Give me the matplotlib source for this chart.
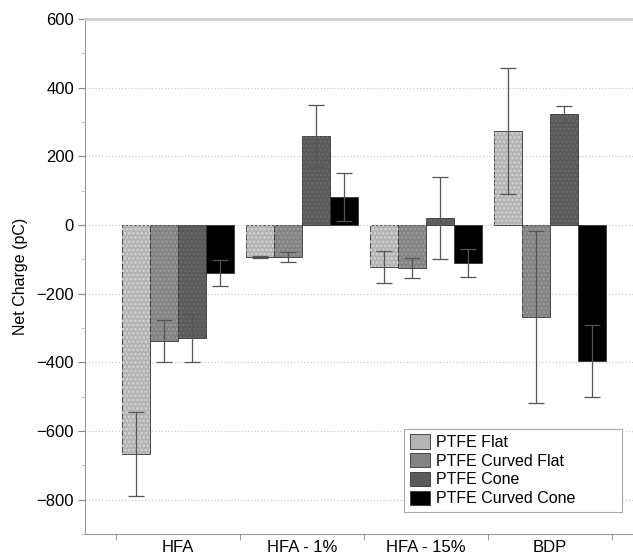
import numpy as np
import matplotlib
matplotlib.use("Agg")
import matplotlib.pyplot as plt
from matplotlib.ticker import MultipleLocator, FixedLocator

plt.rcParams['font.family'] = ['Liberation Sans', 'DejaVu Sans']
plt.rcParams['hatch.linewidth'] = 1.2

# net charge per formulation, one list per collector type
groups = ['HFA', 'HFA - 1%', 'HFA - 15%', 'BDP']
series = ['PTFE Flat', 'PTFE Curved Flat', 'PTFE Cone', 'PTFE Curved Cone']
flat = [-667, -93, -122, 274]
curved_flat = [-338, -93, -125, -268]
cone = [-329, 259, 20, 323]
curved_cone = [-140, 82, -110, -396]

flat_err = [121, 4, 47, 184]
curved_flat_err = [61, 15, 30, 250]
cone_err = [70, 91, 120, 24]
curved_cone_err = [38, 69, 41, 105]

values = [flat, curved_flat, cone, curved_cone]
errors = [flat_err, curved_flat_err, cone_err, curved_cone_err]
colors = ['#b4b4b4', '#838383', '#5a5a5a', '#000000']
speckle = ['#d4d4d4', '#9a9a9a', '#6a6a6a', '#000000']

fig = plt.figure(figsize=(6.33, 5.58), dpi=100)
ax = fig.add_axes([0.1343, 0.043, 0.866, 0.923])

x = np.arange(1, len(groups) + 1)
width = 0.226
for i in range(4):
    pos = x + (i - 1.5) * width
    ax.bar(pos, values[i], width, color=colors[i], edgecolor='#333333',
           linewidth=0.6, label=series[i], zorder=2)
    if i < 3:
        # speckled texture on the grey bars
        ax.bar(pos, values[i], width, color='none', edgecolor=speckle[i],
               linewidth=0, hatch='....', zorder=2.5)
    ax.errorbar(pos, values[i], yerr=errors[i], fmt='none', ecolor='#555555',
                elinewidth=0.9, capsize=5.5, capthick=0.9, zorder=3)

ax.set_xlim(0.25, 4.67)
ax.set_ylim(-900, 600)

ax.yaxis.set_major_locator(MultipleLocator(200))
ax.yaxis.set_minor_locator(MultipleLocator(100))
ax.grid(axis='y', which='major', color='#cccccc', linestyle=':', linewidth=0.9, zorder=0)
ax.set_axisbelow(True)

ax.set_xticks(x)
ax.set_xticklabels(groups)
ax.xaxis.set_minor_locator(FixedLocator(np.arange(0.5, 5, 1.0)))
ax.tick_params(axis='x', which='major', length=0, pad=4, labelsize=12)
ax.tick_params(axis='x', which='minor', length=4, color='#888888', direction='out')
ax.tick_params(axis='y', which='major', length=5, color='#888888', labelsize=12, pad=3)
ax.tick_params(axis='y', which='minor', length=3, color='#bbbbbb')

ax.spines['right'].set_visible(False)
ax.spines['top'].set_color('#d0d0d0')
ax.spines['top'].set_linewidth(2)
ax.spines['left'].set_color('#999999')
ax.spines['bottom'].set_color('#999999')

ax.set_ylabel('Net Charge (pC)', fontsize=11.5, labelpad=6)

leg = ax.legend(loc='lower left', bbox_to_anchor=(0.582, 0.043, 0.398, 0.155),
                mode='expand', borderaxespad=0, fontsize=11.5,
                fancybox=False, edgecolor='#aaaaaa', handlelength=1.25,
                handleheight=1.0, labelspacing=0.2, handletextpad=0.4,
                borderpad=0.35, framealpha=1)
leg.get_frame().set_linewidth(0.8)

fig.savefig('out.png', dpi=100)
